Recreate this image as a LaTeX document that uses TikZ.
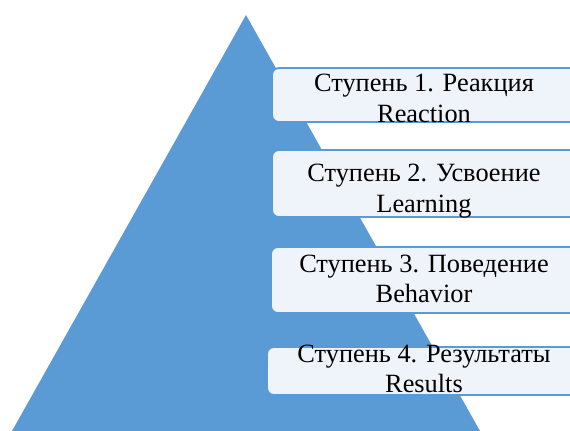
\documentclass[tikz,border=0pt]{standalone}
\usepackage{fontspec}
\setmainfont{Liberation Serif}
\definecolor{pyrblue}{HTML}{5B9BD5}
\definecolor{boxfill}{HTML}{EFF3FA}
\tikzset{
  stepbox/.style={draw=pyrblue, line width=1pt, fill=boxfill, rounded corners=4pt},
  steptext/.style={align=center, inner sep=0pt, font=\fontsize{15}{17.5}\selectfont}
}

\begin{document}
\begin{tikzpicture}[x=0.02cm,y=-0.02cm]
  \useasboundingbox (0,0) rectangle (570,430);
  % pyramid
  \fill[pyrblue] (246,15) -- (480,431) -- (12,431) -- cycle;
  % levels
  \draw[stepbox] (272,68) rectangle (580,122);
  \draw[stepbox] (272,150) rectangle (580,217);
  \draw[stepbox] (271,247) rectangle (580,313);
  \draw[stepbox] (267,347) rectangle (580,395);
  \node[steptext] (s1) at (424,98.5) {Ступень 1. Реакция\\Reaction};
  \node[steptext] (s2) at (424,191) {Ступень 2. Усвоение\\Learning};
  \node[steptext] (s3) at (424,279) {Ступень 3. Поведение\\Behavior};
  \node[steptext] (s4) at (424,369) {Ступень 4. Результаты\\Results};
\end{tikzpicture}
\end{document}
